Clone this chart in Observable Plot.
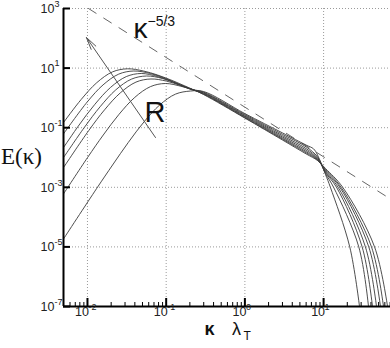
<!DOCTYPE html>
<html><head><meta charset="utf-8">
<script src="https://cdn.jsdelivr.net/npm/d3@7"></script>
<script src="https://cdn.jsdelivr.net/npm/@observablehq/plot@0.6"></script>
<style>body{margin:0;background:#fff}</style>
</head><body><div id="chart"></div>
<script>
// ---- data (kappa * lambda_T, E(kappa)) ----
const curve1Kappa = [0.005, 0.00829, 0.01313, 0.02078, 0.03223, 0.05148, 0.0775, 0.1238, 0.192, 0.298, 1.0, 3.0, 6.0, 8.37, 10.57, 17.5, 44.4, 64.9];
const curve1E     = [0.153, 0.877, 3.24, 7.46, 9.47, 7.99, 5.87, 3.69, 2.23, 1.30, 0.210, 0.0387, 0.0132, 0.00793, 0.00428, 1e-3, 1e-5, 1e-7];
const curve2Kappa = [0.005, 0.00997, 0.01578, 0.02498, 0.03877, 0.06317, 0.09797, 0.1519, 0.298, 1.0, 3.0, 6.0, 8.37, 10.57, 16.7, 40.6, 57.7];
const curve2E     = [0.0639, 0.740, 2.73, 6.29, 7.99, 6.59, 4.48, 2.71, 1.34, 0.218, 0.0414, 0.0144, 0.00824, 0.00396, 1e-3, 1e-5, 1e-7];
const curve3Kappa = [0.005, 0.00782, 0.01242, 0.01966, 0.03112, 0.04827, 0.0775, 0.1202, 0.192, 0.298, 1.0, 3.0, 6.0, 8.37, 10.57, 16.1, 37.5, 52.8];
const curve3E     = [0.0222, 0.123, 0.610, 2.25, 5.19, 6.59, 5.23, 3.50, 2.13, 1.38, 0.230, 0.0445, 0.0158, 0.00857, 0.00366, 1e-3, 1e-5, 1e-7];
const curve4Kappa = [0.005, 0.00911, 0.01446, 0.02289, 0.03623, 0.05619, 0.08974, 0.1391, 0.2036, 0.298, 1.0, 3.0, 6.0, 8.37, 10.57, 15.3, 34.0, 47.0];
const curve4E     = [0.01023, 0.1015, 0.503, 1.86, 4.27, 5.43, 4.48, 2.93, 1.99, 1.44, 0.243, 0.0488, 0.0176, 0.00904, 0.00339, 1e-3, 1e-5, 1e-7];
const curve5Kappa = [0.005, 0.01039, 0.0165, 0.02611, 0.04132, 0.0641, 0.1009, 0.1519, 0.2158, 0.298, 1.0, 3.0, 6.0, 8.37, 10.57, 14.6, 30.9, 41.8];
const curve5E     = [0.00473, 0.0805, 0.399, 1.47, 3.39, 4.31, 3.66, 2.61, 1.84, 1.49, 0.259, 0.0539, 0.0199, 0.00962, 0.00314, 1e-3, 1e-5, 1e-7];
const curve6Kappa = [0.005, 0.01003, 0.01588, 0.0252, 0.0399, 0.06317, 0.09797, 0.1588, 0.2158, 0.298, 1.0, 3.0, 6.0, 8.37, 10.57, 13.4, 28.0, 37.2];
const curve6E     = [0.000619, 0.0100, 0.0569, 0.282, 1.04, 2.39, 3.04, 2.41, 1.91, 1.57, 0.277, 0.0601, 0.0227, 0.01054, 0.00291, 1e-3, 1e-5, 1e-7];
const curve7Kappa = [0.005, 0.01313, 0.02084, 0.03299, 0.05239, 0.08293, 0.1313, 0.2036, 0.298, 1.0, 3.0, 6.0, 7.44, 8.37, 10.57, 12.2, 21.5, 28.6];
const curve7E     = [1.91e-5, 0.000925, 0.0056, 0.0319, 0.158, 0.582, 1.34, 1.70, 1.64, 0.297, 0.0670, 0.0261, 0.0196, 0.01213, 0.00269, 1e-3, 1e-5, 1e-7];

// reference slope line kappa^{-5/3}
const slopeKappa = [0.0103, 66.8];
const slopeE     = [1000, 4.45e-4];

// "R" arrow (tail -> tip)
const arrowKappa = [0.0731, 0.00971];
const arrowE     = [0.0469, 106];

// axes
const xDomain = [0.00496, 70.8];
const yDomain = [1e-7, 1e3];
const xTicks = [0.01, 0.1, 1, 10];
const xTickExp = ["-2", "-1", "0", "1"];
const xMinorTicks = [0.006, 0.007, 0.008, 0.009, 0.02, 0.03, 0.04, 0.05, 0.06, 0.07, 0.08, 0.09,
  0.2, 0.3, 0.4, 0.5, 0.6, 0.7, 0.8, 0.9, 2, 3, 4, 5, 6, 7, 8, 9, 20, 30, 40, 50, 60, 70];
const yTicks = [1e3, 1e1, 1e-1, 1e-3, 1e-5, 1e-7];
const yTickExp = ["3", "1", "-1", "-3", "-5", "-7"];
const yGrid = [1e3, 1e1, 1e-1, 1e-3, 1e-5];

// annotation anchors
const slopeLabelKappa = [0.0471, 0.0579];
const slopeLabelE = [197, 380];
const rLabelKappa = [0.0721];
const rLabelE = [0.324];

// ---- build tables ----
const curves = [
  [curve1Kappa, curve1E], [curve2Kappa, curve2E], [curve3Kappa, curve3E], [curve4Kappa, curve4E],
  [curve5Kappa, curve5E], [curve6Kappa, curve6E], [curve7Kappa, curve7E]
];
const rows = curves.flatMap(([ks, es], c) => ks.map((k, i) => ({k, e: es[i], c})));
const slopeRows = slopeKappa.map((k, i) => ({k, e: slopeE[i]}));
const arrowRow = [{x1: arrowKappa[0], y1: arrowE[0], x2: arrowKappa[1], y2: arrowE[1]}];
const xTickRows = xTicks.map((t, i) => ({t, s: xTickExp[i]}));
const yTickRows = yTicks.map((t, i) => ({t, s: yTickExp[i]}));

const W = 390, H = 348, mL = 63, mR = 0, mT = 8, mB = 42;
const frameW = W - mL - mR, frameH = H - mT - mB;
const sans = "Liberation Sans, Arial, Helvetica, sans-serif";

const chart = Plot.plot({
  width: W, height: H,
  marginLeft: mL, marginRight: mR, marginTop: mT, marginBottom: mB,
  x: {type: "log", domain: xDomain, axis: null},
  y: {type: "log", domain: yDomain, axis: null},
  style: {background: "#fff", fontFamily: sans, overflow: "visible"},
  marks: [
    // grid
    Plot.ruleX(xTicks, {x: d => d, stroke: "#9a9a9a", strokeWidth: 1, strokeDasharray: "1,2"}),
    Plot.ruleY(yGrid, {y: d => d, stroke: "#9a9a9a", strokeWidth: 1, strokeDasharray: "1,2"}),
    // kappa^{-5/3} reference
    Plot.line(slopeRows, {x: "k", y: "e", stroke: "#666", strokeWidth: 1, strokeDasharray: "9,9", clip: true}),
    // spectra
    Plot.line(rows, {x: "k", y: "e", z: "c", curve: "catmull-rom", stroke: "#3a3a3a", strokeWidth: 0.9, clip: true}),
    // R arrow
    Plot.arrow(arrowRow, {x1: "x1", y1: "y1", x2: "x2", y2: "y2", stroke: "#555", strokeWidth: 1, headLength: 19, headAngle: 26}),
    // axis lines
    Plot.ruleX([xDomain[0]], {x: d => d, stroke: "#000", strokeWidth: 2}),
    Plot.ruleY([yDomain[0]], {y: d => d, stroke: "#000", strokeWidth: 2}),
    // ticks (inward)
    Plot.tickX(xTicks, {x: d => d, insetTop: frameH - 8, stroke: "#000", strokeWidth: 2}),
    Plot.tickX(xMinorTicks, {x: d => d, insetTop: frameH - 4, stroke: "#000", strokeWidth: 1}),
    Plot.tickY(yTicks, {y: d => d, insetRight: frameW - 7, stroke: "#000", strokeWidth: 2}),
    // tick labels
    Plot.text(xTickRows, {x: "t", frameAnchor: "bottom", text: () => "10", dx: -5.5, dy: 9, fontSize: 12.5, fill: "#222", textAnchor: "middle"}),
    Plot.text(xTickRows, {x: "t", frameAnchor: "bottom", text: "s", dx: 1, dy: 3, fontSize: 9, fill: "#222", textAnchor: "start"}),
    Plot.text(yTickRows, {y: "t", frameAnchor: "left", text: () => "10", dx: -9, dy: 0.5, fontSize: 12.5, fill: "#222", textAnchor: "end"}),
    Plot.text(yTickRows, {y: "t", frameAnchor: "left", text: "s", dx: -9, dy: -4.5, fontSize: 9, fill: "#222", textAnchor: "start"}),
    // axis titles
    Plot.text(["E(κ)"], {frameAnchor: "left", dx: -42, dy: -1, fontSize: 23, fontFamily: "Liberation Serif, Times New Roman, serif", fill: "#111", textAnchor: "middle"}),
    Plot.text(["κ"], {frameAnchor: "bottom", dx: -17.5, dy: 28, fontSize: 18, fontWeight: "bold", fill: "#111", textAnchor: "middle"}),
    Plot.text(["λ"], {frameAnchor: "bottom", dx: 9.5, dy: 28, fontSize: 18, fill: "#111", textAnchor: "middle"}),
    Plot.text(["T"], {frameAnchor: "bottom", dx: 16.5, dy: 33.5, fontSize: 12, fill: "#111", textAnchor: "start"}),
    // annotations
    Plot.text([0], {x: () => slopeLabelKappa[0], y: () => slopeLabelE[0], text: () => "κ", fontSize: 28, fill: "#111", textAnchor: "middle"}),
    Plot.text([0], {x: () => slopeLabelKappa[1], y: () => slopeLabelE[1], text: () => "−5/3", fontSize: 14, fill: "#111", textAnchor: "start"}),
    Plot.text([0], {x: () => rLabelKappa[0], y: () => rLabelE[0], text: () => "R", fontSize: 29, fill: "#111", textAnchor: "middle"})
  ]
});
document.getElementById("chart").appendChild(chart);
</script>
</body></html>
